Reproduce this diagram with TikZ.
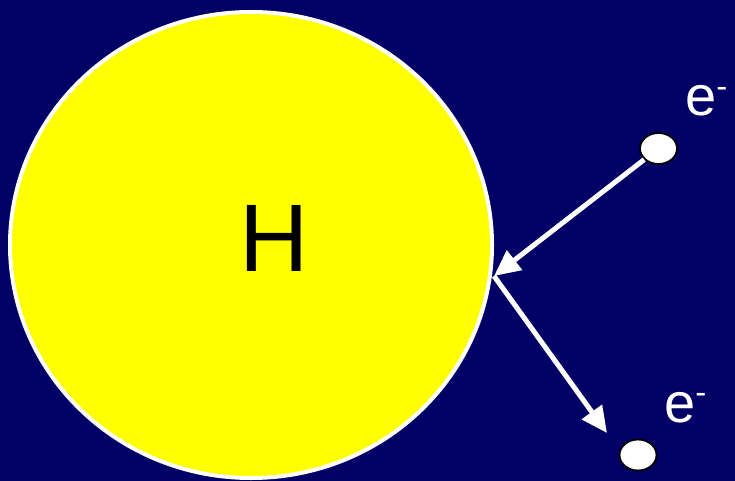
\documentclass[tikz,border=0pt]{standalone}
\usepackage{fontspec}
\setmainfont{Liberation Sans}
\usetikzlibrary{arrows.meta,shapes.geometric}
\definecolor{navy}{RGB}{0,0,102}
\definecolor{hyellow}{RGB}{255,255,0}
\tikzset{
  electron/.style={ellipse,draw=black,line width=1.8pt,fill=white,inner sep=0pt,minimum width=37pt,minimum height=31pt},
  elabel/.style={anchor=base west,inner sep=0pt,text=white,font=\fontsize{56}{56}\selectfont},
  flow/.style={draw=white,line width=5pt,-{Triangle[length=26pt,width=24pt]}}
}
\newcommand{\elec}{e\raisebox{18.5pt}{\fontsize{33}{33}\selectfont -}}
\begin{document}
\begin{tikzpicture}[x=1pt,y=-1pt]
\fill[navy] (0,0) rectangle (735,481);
\useasboundingbox (0,0) rectangle (735,481);
\node[ellipse,draw=white,line width=4pt,fill=hyellow,minimum width=482pt,minimum height=466pt,inner sep=0pt] (atom) at (251,245) {};
\node[inner sep=0pt,font=\fontsize{96}{96}\selectfont] (h) at (274.5,238.5) {H};
\node[electron] (e1) at (658.5,148.5) {};
\node[electron] (e2) at (638,455) {};
\node[elabel] (l1) at (685,116) {\elec};
\node[elabel] (l2) at (664,422) {\elec};
\coordinate (hit) at (494,276);
\coordinate (out) at (607,433);
\draw[flow] (e1) -- (hit);
\draw[flow] (hit) -- (out);
\end{tikzpicture}
\end{document}
